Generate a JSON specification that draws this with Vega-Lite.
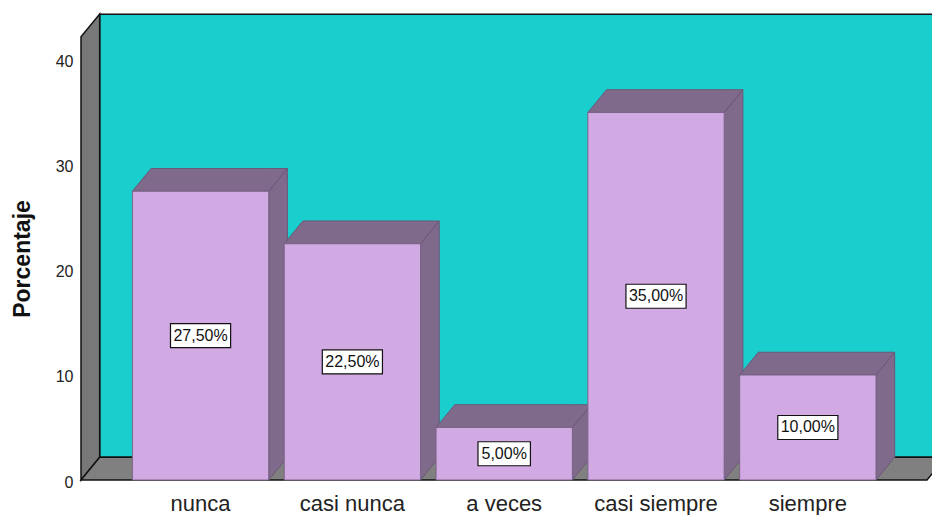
{
  "$schema": "https://vega.github.io/schema/vega-lite/v6.json",
  "autosize": {"type": "none"},
  "width": 851,
  "height": 466,
  "padding": {"left": 81, "top": 14, "right": 0, "bottom": 35},
  "background": "white",
  "config": {"view": {"stroke": null}},
  "datasets": {
    "datos": [
      {"respuesta": "nunca", "porcentaje": 27.5},
      {"respuesta": "casi nunca", "porcentaje": 22.5},
      {"respuesta": "a veces", "porcentaje": 5.0},
      {"respuesta": "casi siempre", "porcentaje": 35.0},
      {"respuesta": "siempre", "porcentaje": 10.0}
    ]
  },
  "data": {"name": "datos"},
  "transform": [
    {"window": [{"op": "row_number", "as": "n"}]},
    {"calculate": "datum.n - 1", "as": "c"},
    {"calculate": "datum.c - 0.449", "as": "x0"},
    {"calculate": "datum.c + 0.449", "as": "x1"}
  ],
  "encoding": {
    "x": {"field": "px", "type": "quantitative", "scale": {"domain": [-0.7875, 4.8178], "nice": false, "zero": false}, "axis": null},
    "y": {
      "field": "py", "type": "quantitative", "stack": null,
      "scale": {"domain": [0, 44.38], "nice": false, "zero": false},
      "axis": {
        "values": [0, 10, 20, 30, 40], "grid": false, "domain": false, "ticks": false,
        "labelPadding": 8, "labelFont": "Liberation Sans", "labelFontSize": 16, "labelColor": "#222222",
        "labelOffset": 2,
        "title": "Porcentaje", "titleFont": "Liberation Sans", "titleFontSize": 23, "titleFontWeight": "bold",
        "titleColor": "#111111", "titleX": -59, "titleY": 244.5, "titleAngle": 270,
        "titleAlign": "center", "titleBaseline": "middle"
      }
    }
  },
  "layer": [
    {
      "transform": [
        {"filter": "datum.n == 1"},
        {"calculate": "-0.7875 + 0.123", "as": "px"},
        {"calculate": "5.3", "as": "px2"},
        {"calculate": "2.17", "as": "py"},
        {"calculate": "44.36", "as": "py2"}
      ],
      "mark": {"type": "rect", "fill": "#1bcece", "stroke": "#111111", "strokeWidth": 1.5},
      "encoding": {"x2": {"field": "px2"}, "y2": {"field": "py2"}}
    },
    {
      "transform": [
        {"filter": "datum.n == 1"},
        {"calculate": "[0, 1]", "as": "v"},
        {"flatten": ["v"]},
        {"calculate": "-0.7875 + datum.v * 0.123", "as": "px"},
        {"calculate": "datum.v * 2.17", "as": "py"},
        {"calculate": "42.2 + datum.v * 2.17", "as": "py2"}
      ],
      "mark": {"type": "area", "orient": "vertical", "fill": "#787878", "stroke": "#111111", "strokeWidth": 1.5},
      "encoding": {"y2": {"field": "py2"}}
    },
    {
      "transform": [
        {"filter": "datum.n == 1"},
        {"calculate": "[0, 1, 2, 3]", "as": "v"},
        {"flatten": ["v"]},
        {"calculate": "datum.v == 0 ? -0.7875 : datum.v == 1 ? -0.7875 + 0.123 : datum.v == 2 ? 4.785 : 4.785 + 0.123", "as": "px"},
        {"calculate": "datum.v == 3 ? 2.17 : 0", "as": "py"},
        {"calculate": "datum.v == 0 ? 0 : 2.17", "as": "py2"}
      ],
      "mark": {"type": "area", "orient": "vertical", "fill": "#808080", "stroke": "#111111", "strokeWidth": 1.5},
      "encoding": {"y2": {"field": "py2"}}
    },
    {
      "transform": [
        {"calculate": "[0, 1]", "as": "v"},
        {"flatten": ["v"]},
        {"calculate": "datum.v == 0 ? datum.x1 : datum.x1 + 0.123", "as": "px"},
        {"calculate": "datum.v * 2.17", "as": "py"},
        {"calculate": "datum.porcentaje + datum.v * 2.17", "as": "py2"}
      ],
      "mark": {"type": "area", "orient": "vertical", "fill": "#7f6a8b", "stroke": "#6a5878", "strokeWidth": 1},
      "encoding": {"y2": {"field": "py2"}, "detail": {"field": "respuesta"}}
    },
    {
      "transform": [
        {"calculate": "[0, 1, 2, 3]", "as": "v"},
        {"flatten": ["v"]},
        {"calculate": "datum.v == 0 ? datum.x0 : datum.v == 1 ? datum.x0 + 0.123 : datum.v == 2 ? datum.x1 : datum.x1 + 0.123", "as": "px"},
        {"calculate": "datum.v == 3 ? datum.porcentaje + 2.17 : datum.porcentaje", "as": "py"},
        {"calculate": "datum.v == 0 ? datum.porcentaje : datum.porcentaje + 2.17", "as": "py2"}
      ],
      "mark": {"type": "area", "orient": "vertical", "fill": "#7f6a8b", "stroke": "#6a5878", "strokeWidth": 1},
      "encoding": {"y2": {"field": "py2"}, "detail": {"field": "respuesta"}}
    },
    {
      "transform": [
        {"calculate": "datum.x0", "as": "px"},
        {"calculate": "datum.x1", "as": "px2"},
        {"calculate": "0", "as": "py"},
        {"calculate": "datum.porcentaje", "as": "py2"}
      ],
      "mark": {"type": "rect", "fill": "#d1a9e3", "stroke": "#7a6488", "strokeWidth": 1},
      "encoding": {"x2": {"field": "px2"}, "y2": {"field": "py2"}}
    },
    {
      "transform": [
        {"calculate": "replace(format(datum.porcentaje, '.2f'), '.', ',') + '%'", "as": "etiqueta"},
        {"calculate": "(7.7 * length(datum.etiqueta) + 14) / 152 / 2", "as": "hw"},
        {"calculate": "datum.c - datum.hw", "as": "px"},
        {"calculate": "datum.c + datum.hw", "as": "px2"},
        {"calculate": "datum.porcentaje / 2 - 12 / 10.5", "as": "py"},
        {"calculate": "datum.porcentaje / 2 + 12 / 10.5", "as": "py2"}
      ],
      "mark": {"type": "rect", "fill": "white", "stroke": "#111111", "strokeWidth": 1.2},
      "encoding": {"x2": {"field": "px2"}, "y2": {"field": "py2"}}
    },
    {
      "transform": [
        {"calculate": "replace(format(datum.porcentaje, '.2f'), '.', ',') + '%'", "as": "etiqueta"},
        {"calculate": "datum.c", "as": "px"},
        {"calculate": "datum.porcentaje / 2", "as": "py"}
      ],
      "mark": {"type": "text", "font": "Liberation Sans", "fontSize": 16, "color": "#111111", "align": "center", "baseline": "middle"},
      "encoding": {"text": {"field": "etiqueta"}}
    },
    {
      "transform": [
        {"calculate": "datum.c", "as": "px"},
        {"calculate": "0", "as": "py"}
      ],
      "mark": {"type": "text", "font": "Liberation Sans", "fontSize": 22, "color": "#222222", "align": "center", "baseline": "alphabetic", "dy": 31},
      "encoding": {"text": {"field": "respuesta"}}
    }
  ]
}
